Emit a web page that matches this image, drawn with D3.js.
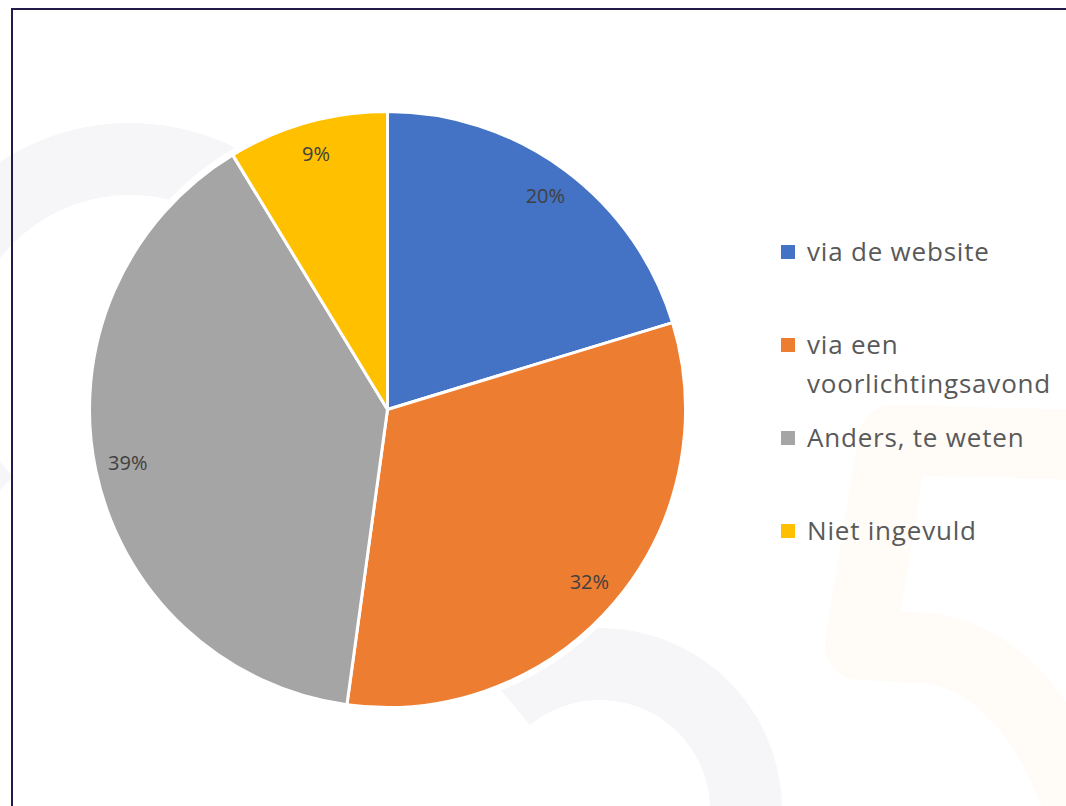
<!DOCTYPE html>
<html>
<head>
<meta charset="utf-8">
<script src="https://cdn.jsdelivr.net/npm/d3@7"></script>
<style>
  html, body { margin: 0; padding: 0; background: #fff; }
  svg { display: block; }
</style>
</head>
<body>
<svg id="chart" width="1066" height="806"></svg>
<script>
// answers (counts) per category
var categories = ["via de website", "via een voorlichtingsavond", "Anders, te weten", "Niet ingevuld"];
var counts = [14, 22, 27, 6];
var legendLines = [["via de website"], ["via een", "voorlichtingsavond"], ["Anders, te weten"], ["Niet ingevuld"]];
var sliceColors = ["#4472C4", "#ED7D31", "#A5A5A5", "#FFC000"];

var width = 1066,
    height = 806,
    cx = 387.5,
    cy = 409.5,
    radius = 298;

var svg = d3.select("#chart");

// faint background watermark
var wm = svg.append("g").attr("class", "watermark");

wm.append("path")
    .attr("transform", "translate(130,360)")
    .attr("d", d3.arc()({innerRadius: 165, outerRadius: 237, startAngle: -Math.PI * 0.75, endAngle: Math.PI / 2}))
    .attr("fill", "#f6f6f8");

wm.append("path")
    .attr("transform", "translate(600,810)")
    .attr("d", d3.arc()({innerRadius: 110, outerRadius: 182, startAngle: -Math.PI * 0.22, endAngle: Math.PI}))
    .attr("fill", "#f6f6f8");

wm.append("path")
    .attr("d", "M1090,445 L893,440 L860,645 L930,648 Q1030,665 1080,810")
    .attr("fill", "none")
    .attr("stroke", "#fffbf7")
    .attr("stroke-width", 70)
    .attr("stroke-linejoin", "round");

// white halo around the pie
svg.append("circle")
    .attr("cx", cx)
    .attr("cy", cy)
    .attr("r", radius + 5)
    .attr("fill", "#fff");

// frame (only top & left edges fall inside the picture)
svg.append("path")
    .attr("d", "M12," + height + " L12,9 L" + width + ",9")
    .attr("fill", "none")
    .attr("stroke", "#221c4b")
    .attr("stroke-width", 2);

var color = d3.scaleOrdinal()
    .domain(categories)
    .range(sliceColors);

var total = d3.sum(counts);
var data = categories.map(function(c, i) { return {name: c, value: counts[i]}; });

var pie = d3.pie()
    .sort(null)
    .value(function(d) { return d.value; });

var arc = d3.arc()
    .innerRadius(0)
    .outerRadius(radius);

var labelArc = d3.arc()
    .innerRadius(radius * 0.89)
    .outerRadius(radius * 0.89);

var g = svg.append("g")
    .attr("transform", "translate(" + cx + "," + cy + ")");

var slices = g.selectAll(".arc")
    .data(pie(data))
  .enter().append("g")
    .attr("class", "arc");

slices.append("path")
    .attr("d", arc)
    .style("fill", function(d) { return color(d.data.name); })
    .style("stroke", "#fff")
    .style("stroke-width", 3)
    .style("stroke-linejoin", "round");

var pct = d3.format(".0%");

slices.append("text")
    .attr("transform", function(d) {
      var c = labelArc.centroid(d);
      return "translate(" + c[0] + "," + c[1] + ")";
    })
    .attr("dy", ".35em")
    .style("text-anchor", "middle")
    .style("font-family", "'Open Sans', sans-serif")
    .style("font-size", "20px")
    .style("fill", "#404040")
    .text(function(d) { return pct(d.data.value / total); });

// legend
var legendY = d3.scalePoint()
    .domain(categories)
    .range([252, 252 + 93 * 3]);

var legend = svg.append("g")
    .attr("class", "legend")
  .selectAll("g")
    .data(categories)
  .enter().append("g")
    .attr("transform", function(d) { return "translate(781," + legendY(d) + ")"; });

legend.append("rect")
    .attr("y", -7)
    .attr("width", 14)
    .attr("height", 14)
    .style("fill", color);

legend.append("text")
    .attr("x", 26)
    .attr("y", 9)
    .style("font-family", "'Open Sans', sans-serif")
    .style("font-size", "26px")
    .style("letter-spacing", "0.8px")
    .style("fill", "#595959")
  .selectAll("tspan")
    .data(function(d, i) { return legendLines[i]; })
  .enter().append("tspan")
    .attr("x", 26)
    .attr("dy", function(d, i) { return i ? 38.5 : 0; })
    .text(function(d) { return d; });
</script>
</body>
</html>
